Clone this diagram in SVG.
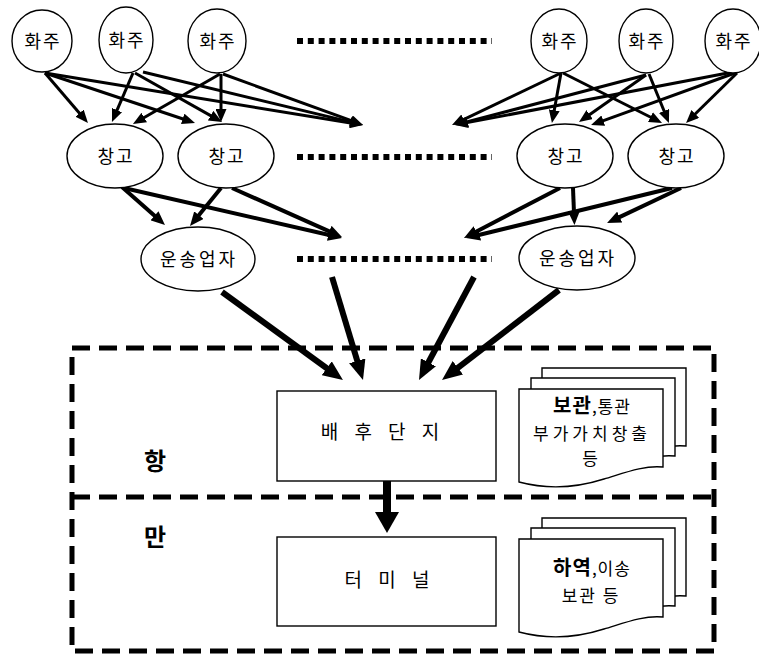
<svg xmlns="http://www.w3.org/2000/svg" width="759" height="654" viewBox="0 0 759 654">
<style>
  .nd { fill: #fff; stroke: #000; stroke-width: 1.4; }
  .lb { font-family: "Noto Sans CJK KR", "Noto Sans", sans-serif; font-size: 18px; fill: #000; text-anchor: middle; letter-spacing: 2px; }
  .dots { stroke: #000; stroke-width: 6; stroke-dasharray: 6 4.8; fill: none; }
  .a1 { stroke: #000; stroke-width: 3; fill: none; marker-end: url(#m1); }
  .a2 { stroke: #000; stroke-width: 4; fill: none; marker-end: url(#m2); }
  .a3 { stroke: #000; stroke-width: 6; fill: none; marker-end: url(#m3); }
  .bnd { stroke: #000; stroke-width: 5; stroke-dasharray: 18 9; fill: none; }
  .doc { fill: #fff; stroke: #000; stroke-width: 1.4; }
  .big { font-family: "Noto Sans CJK KR", "Noto Sans", sans-serif; font-size: 24px; font-weight: bold; text-anchor: middle; fill: #000; }
</style>
<defs>
  <marker id="m1" viewBox="0 0 13 11" markerWidth="13" markerHeight="11" refX="2" refY="5.5" orient="auto" markerUnits="userSpaceOnUse"><path d="M0,0 L13,5.5 L0,11 Z" fill="#000"/></marker>
  <marker id="m2" viewBox="0 0 14 12" markerWidth="14" markerHeight="12" refX="2" refY="6" orient="auto" markerUnits="userSpaceOnUse"><path d="M0,0 L14,6 L0,12 Z" fill="#000"/></marker>
  <marker id="m3" viewBox="0 0 20 17" markerWidth="20" markerHeight="17" refX="3" refY="8.5" orient="auto" markerUnits="userSpaceOnUse"><path d="M0,0 L20,8.5 L0,17 Z" fill="#000"/></marker>
  <marker id="m4" viewBox="0 0 21 24" markerWidth="21" markerHeight="24" refX="2" refY="12" orient="auto" markerUnits="userSpaceOnUse"><path d="M0,0 L21,12 L0,24 Z" fill="#000"/></marker>
  <path id="docshape" d="M0,0 H144 V78 C125,76 105,84 85,90 C60,98 30,101 0,93 Z"/>
</defs>
<rect width="759" height="654" fill="#fff"/>

<g id="boundary">
  <path class="bnd" d="M72,348 H714 V651 H72 Z"/>
  <path class="bnd" d="M72,497 H714"/>
</g>

<g id="ellipsis-dots">
  <path class="dots" d="M297,41 H492"/>
  <path class="dots" d="M297,157 H492"/>
  <path class="dots" d="M297,259 H492"/>
</g>

<g id="connectors">
  <path class="a1" d="M45,73 L80.8,114.7"/>
  <path class="a1" d="M45,73 L184.6,119.5"/>
  <path class="a1" d="M45,73 L352.1,123.2"/>
  <path class="a1" d="M133,73 L116.3,111.9"/>
  <path class="a1" d="M135,73 L212.4,116.6"/>
  <path class="a1" d="M143,72 L352.3,122.4"/>
  <path class="a1" d="M220,74 L142.5,118.5"/>
  <path class="a1" d="M221,74 L221,111"/>
  <path class="a1" d="M223,74 L352.7,121.2"/>
  <path class="a1" d="M561,73 L461.9,120.3"/>
  <path class="a1" d="M561,73 L553.9,112.2"/>
  <path class="a1" d="M563,73 L652.2,118"/>
  <path class="a1" d="M646,75 L465.6,122.2"/>
  <path class="a1" d="M646,75 L588,115.7"/>
  <path class="a1" d="M649,74 L664.8,112.8"/>
  <path class="a1" d="M737,73 L693.9,115.3"/>
  <path class="a1" d="M735,73 L601.4,121.3"/>
  <path class="a1" d="M733,72 L465.8,122.9"/>

  <path class="a2" d="M122,187 L156,217.1"/>
  <path class="a2" d="M124,188 L330.3,235.3"/>
  <path class="a2" d="M221,188 L197.6,216.7"/>
  <path class="a2" d="M232,188 L331,232.1"/>
  <path class="a2" d="M560,188 L474.6,232.5"/>
  <path class="a2" d="M573,188 L574,213"/>
  <path class="a2" d="M672,188 L477.7,235.2"/>
  <path class="a2" d="M681,188 L617.9,217.9"/>

  <path class="a3" d="M222,292 L329.2,370"/>
  <path class="a3" d="M332,277 L358.1,363.7"/>
  <path class="a3" d="M474,277 L427,365"/>
  <path class="a3" d="M559,290 L455.5,369.6"/>

  <path d="M387,481 L387,514" stroke="#000" stroke-width="8" fill="none" marker-end="url(#m4)"/>
</g>

<g id="shipper1"><ellipse class="nd" cx="42" cy="41" rx="30" ry="31"/><text class="lb" x="43" y="48">화주</text></g>
<g id="shipper2"><ellipse class="nd" cx="126" cy="40" rx="27" ry="33"/><text class="lb" x="127" y="47">화주</text></g>
<g id="shipper3"><ellipse class="nd" cx="217" cy="41" rx="29" ry="32"/><text class="lb" x="218" y="48">화주</text></g>
<g id="shipper4"><ellipse class="nd" cx="559" cy="41" rx="28" ry="32"/><text class="lb" x="560" y="48">화주</text></g>
<g id="shipper5"><ellipse class="nd" cx="646" cy="41" rx="27" ry="32"/><text class="lb" x="647" y="48">화주</text></g>
<g id="shipper6"><ellipse class="nd" cx="733" cy="41" rx="28" ry="32"/><text class="lb" x="734" y="48">화주</text></g>

<g id="warehouse1"><ellipse class="nd" cx="115" cy="156" rx="48" ry="32"/><text class="lb" x="116" y="163">창고</text></g>
<g id="warehouse2"><ellipse class="nd" cx="226" cy="156" rx="48" ry="32"/><text class="lb" x="227" y="163">창고</text></g>
<g id="warehouse3"><ellipse class="nd" cx="565" cy="156" rx="48" ry="32"/><text class="lb" x="566" y="163">창고</text></g>
<g id="warehouse4"><ellipse class="nd" cx="676" cy="156" rx="48" ry="32"/><text class="lb" x="677" y="163">창고</text></g>

<g id="carrier1"><ellipse class="nd" cx="198" cy="259" rx="57" ry="32"/><text class="lb" x="199" y="266" style="letter-spacing:3px">운송업자</text></g>
<g id="carrier2"><ellipse class="nd" cx="577" cy="258" rx="58" ry="32"/><text class="lb" x="578" y="265" style="letter-spacing:3px">운송업자</text></g>

<g id="hinterland">
  <rect class="nd" x="277" y="391" width="219" height="90"/>
  <text class="lb" x="383" y="439" style="font-size:19px;letter-spacing:6px">배 후 단 지</text>
</g>
<g id="terminal">
  <rect class="nd" x="277" y="537" width="219" height="89"/>
  <text class="lb" x="390" y="587" style="font-size:19px;letter-spacing:6px">터 미 널</text>
</g>

<g id="port-labels">
  <text class="big" x="155" y="470">항</text>
  <text class="big" x="155" y="546">만</text>
</g>

<g id="doc-hinterland">
  <use href="#docshape" class="doc" transform="translate(542,368)"/>
  <use href="#docshape" class="doc" transform="translate(531,378)"/>
  <use href="#docshape" class="doc" transform="translate(519,389)"/>
  <text class="lb" x="592" y="413" style="font-size:17px;letter-spacing:1px"><tspan font-weight="bold" font-size="20">보관</tspan>,통관</text>
  <text class="lb" x="592" y="440" style="font-size:17px;letter-spacing:4px">부가가치창출</text>
  <text class="lb" x="591" y="465" style="font-size:17px">등</text>
</g>
<g id="doc-terminal">
  <use href="#docshape" class="doc" transform="translate(542,518)"/>
  <use href="#docshape" class="doc" transform="translate(531,528)"/>
  <use href="#docshape" class="doc" transform="translate(519,539)"/>
  <text class="lb" x="592" y="575" style="font-size:17px;letter-spacing:1px"><tspan font-weight="bold" font-size="20">하역</tspan>,이송</text>
  <text class="lb" x="591" y="602" style="font-size:17px">보관 등</text>
</g>
</svg>
